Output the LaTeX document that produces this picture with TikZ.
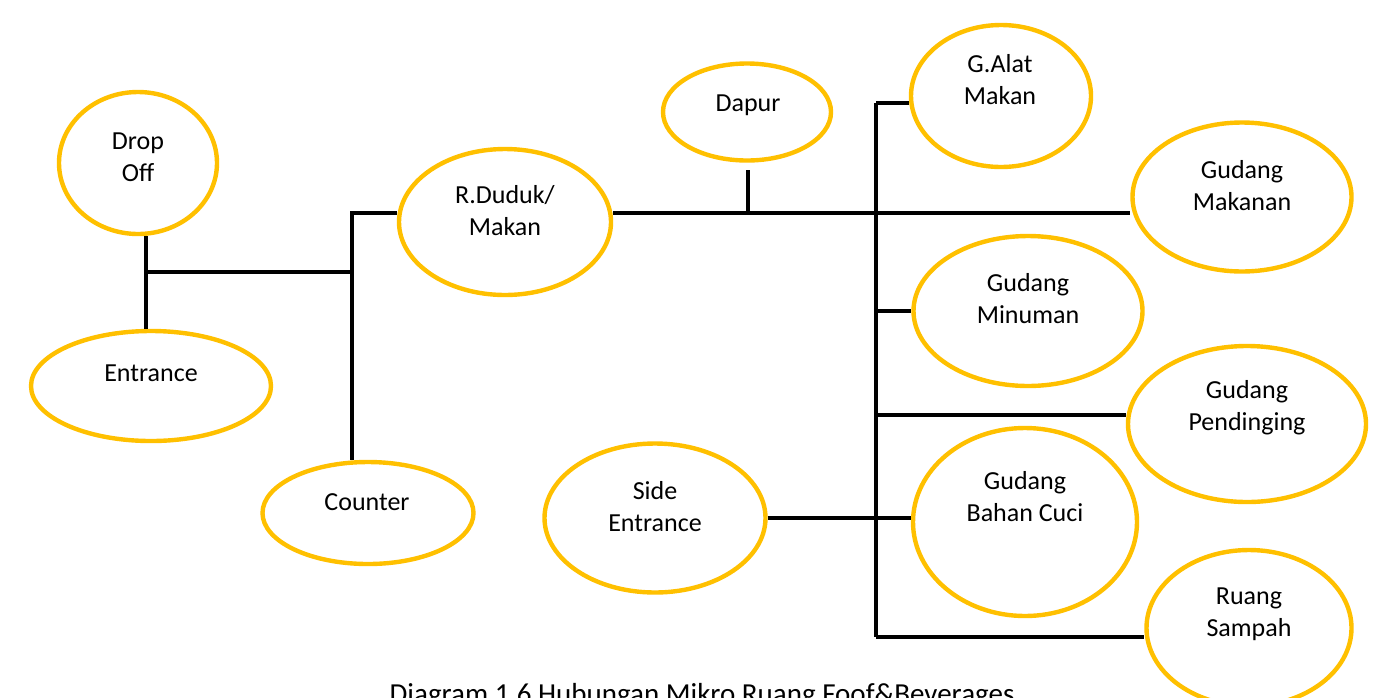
\documentclass[tikz,border=0pt]{standalone}
\usepackage{fontspec}
\setmainfont{Carlito}
\usetikzlibrary{shapes.geometric}
\definecolor{roomyellow}{HTML}{FFC000}
\tikzset{
  room/.style={ellipse, draw=roomyellow, line width=4.4pt, inner sep=0pt, fill=white},
  roomname/.style={align=center, font=\fontsize{26}{32}\selectfont, inner sep=0pt},
  link/.style={draw=black, line width=3.2pt},
}
\begin{document}
\begin{tikzpicture}[x=1pt, y=-1pt]
\useasboundingbox (0,0) rectangle (1383,697);
\fill[white] (0,0) rectangle (1383,697);

% junction points of the connector tree
\coordinate (jA) at (146,272);
\coordinate (jB) at (352,272);
\coordinate (jC) at (352,213);
\coordinate (jD) at (748,213);
\coordinate (dapfoot) at (748,170);
\coordinate (jTop) at (876,103);
\coordinate (jP) at (876,415);
\coordinate (jBot) at (876,637);

% rooms
\node[room, minimum width=158pt, minimum height=142pt] (drop) at (138,163) {};
\node[room, minimum width=240pt, minimum height=110pt] (ent)  at (151,386) {};
\node[room, minimum width=211pt, minimum height=102pt] (cnt)  at (368,513) {};
\node[room, minimum width=212pt, minimum height=146pt] (rd)   at (505,222) {};
\node[room, minimum width=168pt, minimum height=97pt]  (dap)  at (747,112) {};
\node[room, minimum width=180pt, minimum height=142pt] (alat) at (1001,96) {};
\node[room, minimum width=219pt, minimum height=149pt] (gmk)  at (1242,197) {};
\node[room, minimum width=229pt, minimum height=150pt] (gmn)  at (1028,311) {};
\node[room, minimum width=238pt, minimum height=156pt] (gpd)  at (1247,424) {};
\node[room, minimum width=224pt, minimum height=188pt] (gbc)  at (1025,522) {};
\node[room, minimum width=221pt, minimum height=149pt] (side) at (655,518) {};
\node[room, minimum width=205pt, minimum height=156pt] (sam)  at (1249,628) {};

% room names
\node[roomname] (tdrop) at (138,157) {Drop\\Off};
\node[roomname] (tent)  at (151,373) {Entrance};
\node[roomname] (tcnt)  at (367,502) {Counter};
\node[roomname] (trd)   at (505,211) {R.Duduk/\\Makan};
\node[roomname] (tdap)  at (748,105) {Dapur};
\node[roomname] (talat) at (1000,80) {G.Alat\\Makan};
\node[roomname] (tgmk)  at (1242,186) {Gudang\\Makanan};
\node[roomname] (tgmn)  at (1028,299) {Gudang\\Minuman};
\node[roomname] (tgpd)  at (1247,408) {Gudang\\Pendinging};
\node[roomname] (tgbc)  at (1025,497) {Gudang\\Bahan Cuci};
\node[roomname] (tside) at (655,507) {Side\\Entrance};
\node[roomname] (tsam)  at (1249,614) {Ruang\\Sampah};

% connectors
\draw[link] (drop.south -| jA) -- (ent.north -| jA);
\draw[link] (jA) -- (jB);
\draw[link] (cnt.north -| jB) -- (jC) -- (rd.west |- jC);
\draw[link] (rd.east |- jC) -- (gmk.west |- jC);
\draw[link] (dapfoot) -- (jD);
\draw[link] (jTop) -- (jBot);
\draw[link] (jTop) -- (alat.west |- jTop);
\draw[link] (jTop |- gmn.west) -- (gmn.west);
\draw[link] (jP) -- (gpd.west |- jP);
\draw[link] (side.east) -- (gbc.west |- side.east);
\draw[link] (jBot) -- (sam.west |- jBot);

% caption, running off the lower edge
\node[anchor=base, inner sep=0pt, font=\fontsize{29}{34}\selectfont] (caption) at (702,703)
  {Diagram 1.6 Hubungan Mikro Ruang Foof\&Beverages};
\end{tikzpicture}
\end{document}
